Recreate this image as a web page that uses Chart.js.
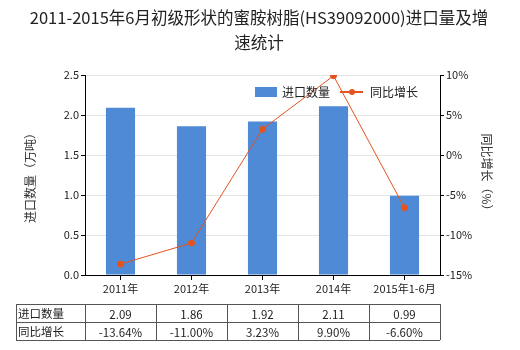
<!DOCTYPE html>
<html>
<head>
<meta charset="utf-8">
<script src="https://cdn.jsdelivr.net/npm/chart.js@4.4.1/dist/chart.umd.min.js"></script>
<style>
  html, body { margin: 0; padding: 0; background: #fff; }
  #wrap { width: 520px; height: 350px; }
</style>
</head>
<body>
<div id="wrap"><canvas id="chart" width="520" height="350"></canvas></div>
<script>
const categories = ["2011年", "2012年", "2013年", "2014年", "2015年1-6月"];
const importQty = [2.09, 1.86, 1.92, 2.11, 0.99];
const growth = [-13.64, -11.00, 3.23, 9.90, -6.60];
const qtyLabels = ["2.09", "1.86", "1.92", "2.11", "0.99"];
const growthLabels = ["-13.64%", "-11.00%", "3.23%", "9.90%", "-6.60%"];

const font = "'Noto Sans CJK SC', 'Microsoft YaHei', sans-serif";
const barColor = "#4F8AD6";
const lineColor = "#E4531D";

const extras = {
  id: "extras",
  afterDraw(chart) {
    const c = chart.ctx;
    const x = chart.scales.x;
    const area = chart.chartArea;
    c.save();
    // title
    c.fillStyle = "#222";
    c.font = "16.5px " + font;
    c.textAlign = "center";
    c.textBaseline = "middle";
    c.fillText("2011-2015年6月初级形状的蜜胺树脂(HS39092000)进口量及增", 259, 18);
    c.fillText("速统计", 259, 43);

    // axis titles
    c.font = "12px " + font;
    c.fillStyle = "#333";
    c.save();
    c.translate(30, (area.top + area.bottom) / 2);
    c.rotate(-Math.PI / 2);
    c.fillText("进口数量（万吨）", 0, 0);
    c.restore();
    c.save();
    c.translate(487, (area.top + area.bottom) / 2);
    c.rotate(Math.PI / 2);
    c.fillText("同比增长（%）", 0, 0);
    c.restore();

    // legend
    c.textAlign = "left";
    c.fillStyle = barColor;
    c.fillRect(255, 87, 22, 10);
    c.fillStyle = "#222";
    c.fillText("进口数量", 282, 92);
    c.strokeStyle = lineColor;
    c.lineWidth = 2;
    c.beginPath();
    c.moveTo(340, 92);
    c.lineTo(363, 92);
    c.stroke();
    c.fillStyle = lineColor;
    c.beginPath();
    c.arc(352, 92, 3, 0, Math.PI * 2);
    c.fill();
    c.fillStyle = "#222";
    c.fillText("同比增长", 370, 92);

    // data table
    const top = 304, mid = 322, bottom = 340, left = 16;
    const half = (x.getPixelForValue(1) - x.getPixelForValue(0)) / 2;
    const right = x.getPixelForValue(categories.length - 1) + half;
    c.strokeStyle = "#555";
    c.lineWidth = 1;
    c.beginPath();
    [top, mid, bottom].forEach(yy => { c.moveTo(left, yy + 0.5); c.lineTo(right, yy + 0.5); });
    c.moveTo(left + 0.5, top); c.lineTo(left + 0.5, bottom);
    for (let i = 0; i < categories.length; i++) {
      const xx = Math.round(x.getPixelForValue(i) - half) + 0.5;
      c.moveTo(xx, top); c.lineTo(xx, bottom);
    }
    c.moveTo(Math.round(right) + 0.5, top); c.lineTo(Math.round(right) + 0.5, bottom);
    c.stroke();

    c.font = "11.5px " + font;
    c.fillStyle = "#222";
    c.textAlign = "left";
    c.fillText("进口数量", left + 2, (top + mid) / 2 + 1);
    c.fillText("同比增长", left + 2, (mid + bottom) / 2 + 1);
    c.textAlign = "center";
    for (let i = 0; i < categories.length; i++) {
      const cx = x.getPixelForValue(i);
      c.fillText(qtyLabels[i], cx, (top + mid) / 2 + 2);
      c.fillText(growthLabels[i], cx, (mid + bottom) / 2 + 2);
    }
    c.restore();
  }
};

new Chart(document.getElementById("chart"), {
  data: {
    labels: categories,
    datasets: [
      {
        type: "line",
        label: "同比增长",
        data: growth,
        yAxisID: "y1",
        borderColor: lineColor,
        backgroundColor: lineColor,
        borderWidth: 1,
        pointRadius: 3,
        pointHoverRadius: 3,
        tension: 0,
        order: 0
      },
      {
        type: "bar",
        label: "进口数量",
        data: importQty,
        yAxisID: "y",
        backgroundColor: barColor,
        barPercentage: 0.41,
        categoryPercentage: 1,
        order: 1
      }
    ]
  },
  plugins: [extras],
  options: {
    responsive: false,
    animation: false,
    layout: { padding: { top: 75, left: 0, right: 0, bottom: 0 } },
    plugins: { legend: { display: false }, tooltip: { enabled: false }, title: { display: false } },
    scales: {
      x: {
        offset: true,
        afterFit(s) { s.height = 75; },
        grid: { offset: false, drawOnChartArea: false, drawTicks: true, tickLength: 5, color: "#000" },
        border: { color: "#000" },
        ticks: { color: "#222", font: { family: font, size: 11 }, padding: 2, maxRotation: 0, autoSkip: false }
      },
      y: {
        position: "left",
        min: 0, max: 2.5,
        afterFit(s) { s.width = 85; },
        ticks: { stepSize: 0.5, color: "#222", font: { family: font, size: 11 }, padding: 2,
          callback: v => v.toFixed(1) },
        grid: { color: "#e4e4e4", tickLength: 4, tickColor: "#000" },
        border: { color: "#000" }
      },
      y1: {
        position: "right",
        min: -15, max: 10,
        afterFit(s) { s.width = 80; },
        ticks: { stepSize: 5, color: "#222", font: { family: font, size: 11 }, padding: 2,
          callback: v => v + "%" },
        grid: { drawOnChartArea: false, tickLength: 4, tickColor: "#000" },
        border: { color: "#000" }
      }
    }
  }
});
</script>
</body>
</html>
